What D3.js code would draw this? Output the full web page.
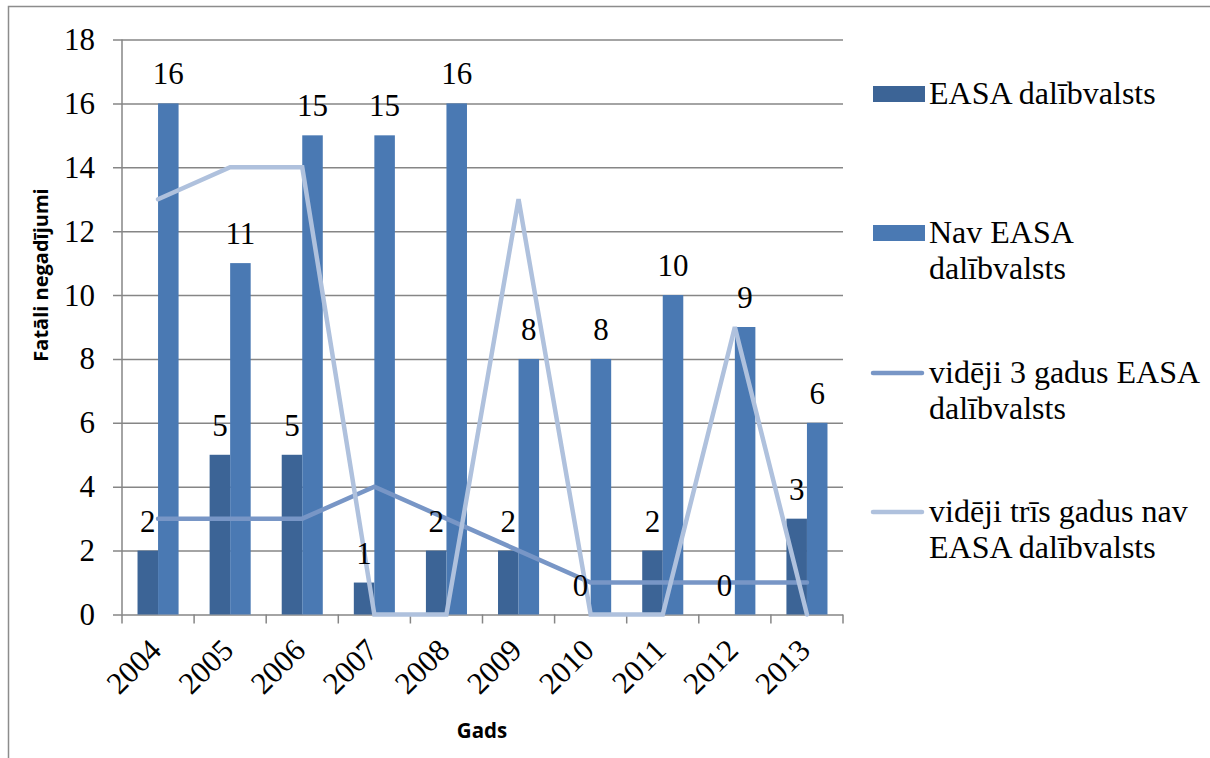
<!DOCTYPE html>
<html>
<head><meta charset='utf-8'>
<script src='https://d3js.org/d3.v7.min.js'></script></head>
<body style='margin:0'>
<script>
			var years = ['2004', '2005', '2006', '2007', '2008', '2009', '2010', '2011', '2012', '2013'];
			var easa = [2, 5, 5, 1, 2, 2, 0, 2, 0, 3];
			var navEasa = [16, 11, 15, 15, 16, 8, 8, 10, 9, 6];
			var avgEasa = [3, 3, 3, 4, 3, 2, 1, 1, 1, 1];
			var avgNavEasa = [13, 14, 14, 0, 0, 13, 0, 0, 9, 0];
			var yTicks = [0, 2, 4, 6, 8, 10, 12, 14, 16, 18];

			var w = 1210;
			var h = 758;

			var serifFam = 'Times New Roman, Times, Liberation Serif, serif';
			var sansFam = 'Open Sans, Liberation Sans, sans-serif';

			var svg = d3.select('body')
						.append('svg')
						.attr('width', w)
						.attr('height', h)
						.attr('font-family', serifFam);

			// outer frame (left + top only visible)
			svg.append('path')
				.attr('d', 'M8.5,' + h + 'V6.5H' + w)
				.attr('fill', 'none')
				.attr('stroke', '#8c8c8c')
				.attr('stroke-width', 1.5);

			var xScale = d3.scaleBand()
						.domain(years)
						.range([122, 843]);

			var inner = d3.scaleBand()
						.domain([0, 1])
						.range([0, xScale.bandwidth()])
						.paddingInner(0)
						.paddingOuter(0.756);

			var yScale = d3.scaleLinear()
						.domain([0, 18])
						.range([614.5, 39.5]);

			// gridlines
			var yAxis = d3.axisLeft(yScale)
						.tickValues(yTicks)
						.tickSize(843 - 113)
						.tickFormat('');

			var gy = svg.append('g')
				.attr('transform', 'translate(843,0)')
				.call(yAxis);
			gy.select('.domain').remove();
			gy.selectAll('.tick line')
				.attr('stroke', '#868686')
				.attr('stroke-width', 1.5);
			gy.selectAll('.tick text').remove();

			// y labels
			svg.selectAll('text.ylab')
				.data(yTicks)
				.enter()
				.append('text')
				.attr('class', 'ylab')
				.attr('x', 95)
				.attr('y', function(d) { return yScale(d); })
				.attr('dy', '0.34em')
				.attr('text-anchor', 'end')
				.attr('font-family', serifFam)
				.attr('font-size', 31)
				.text(function(d) { return d; });

			// y axis line
			svg.append('line')
				.attr('x1', 122).attr('x2', 122)
				.attr('y1', yScale(18)).attr('y2', yScale(0))
				.attr('stroke', '#868686')
				.attr('stroke-width', 1.5);

			// x tick marks at category boundaries
			var bounds = years.map(function(d) { return xScale(d); }).concat([843]);
			svg.selectAll('.xtick')
				.data(bounds)
				.enter()
				.append('line')
				.attr('x1', function(d) { return d; })
				.attr('x2', function(d) { return d; })
				.attr('y1', yScale(0))
				.attr('y2', yScale(0) + 9)
				.attr('stroke', '#868686')
				.attr('stroke-width', 1.5);

			// bars
			var barData = [];
			years.forEach(function(y, i) {
				barData.push({ year: y, s: 0, v: easa[i] });
				barData.push({ year: y, s: 1, v: navEasa[i] });
			});
			var colors = ['#3c6496', '#4a79b3'];

			svg.selectAll('rect.bar')
				.data(barData)
				.enter()
				.append('rect')
				.attr('class', 'bar')
				.attr('x', function(d) { return xScale(d.year) + inner(d.s); })
				.attr('y', function(d) { return yScale(d.v); })
				.attr('width', inner.bandwidth())
				.attr('height', function(d) { return yScale(0) - yScale(d.v); })
				.attr('fill', function(d) { return colors[d.s]; });

			// lines
			var line = d3.line()
						.x(function(d, i) { return xScale(years[i]) + xScale.bandwidth() / 2; })
						.y(function(d) { return yScale(d); });

			svg.append('path')
				.datum(avgEasa)
				.attr('d', line)
				.attr('fill', 'none')
				.attr('stroke', '#7896c6')
				.attr('stroke-width', 4.5)
				.attr('stroke-linecap', 'round');

			svg.append('path')
				.datum(avgNavEasa)
				.attr('d', line)
				.attr('fill', 'none')
				.attr('stroke', '#afc1dd')
				.attr('stroke-width', 4.5)
				.attr('stroke-linecap', 'round');

			// value labels
			svg.selectAll('text.val')
				.data(barData)
				.enter()
				.append('text')
				.attr('class', 'val')
				.attr('x', function(d) { return xScale(d.year) + inner(d.s) + inner.bandwidth() / 2; })
				.attr('y', function(d) { return yScale(d.v) - 19; })
				.attr('text-anchor', 'middle')
				.attr('font-family', serifFam)
				.attr('font-size', 31)
				.text(function(d) { return d.v; });

			// x labels
			svg.selectAll('text.xlab')
				.data(years)
				.enter()
				.append('text')
				.attr('class', 'xlab')
				.attr('transform', function(d) {
					return 'translate(' + (xScale(d) + xScale.bandwidth() / 2 + 5) + ',652) rotate(-45)';
				})
				.attr('text-anchor', 'end')
				.attr('font-family', serifFam)
				.attr('font-size', 31)
				.text(function(d) { return d; });

			// axis titles
			svg.append('text')
				.attr('x', 482)
				.attr('y', 738)
				.attr('text-anchor', 'middle')
				.attr('font-family', sansFam)
				.attr('font-weight', 'bold')
				.attr('font-size', 20.5)
				.text('Gads');

			svg.append('text')
				.attr('transform', 'translate(48,275) rotate(-90)')
				.attr('text-anchor', 'middle')
				.attr('font-family', sansFam)
				.attr('font-weight', 'bold')
				.attr('font-size', 20)
				.text('Fatāli negadījumi');

			// legend
			var legend = [
				{ type: 'rect', color: colors[0], y: 94, lines: ['EASA dalībvalsts'] },
				{ type: 'rect', color: colors[1], y: 233, lines: ['Nav EASA', 'dalībvalsts'] },
				{ type: 'line', color: '#7896c6', y: 373, lines: ['vidēji 3 gadus EASA', 'dalībvalsts'] },
				{ type: 'line', color: '#afc1dd', y: 512, lines: ['vidēji trīs gadus nav', 'EASA dalībvalsts'] }
			];

			legend.forEach(function(d) {
				if (d.type === 'rect') {
					svg.append('rect')
						.attr('x', 873)
						.attr('y', d.y - 8)
						.attr('width', 52)
						.attr('height', 16)
						.attr('fill', d.color);
				} else {
					svg.append('line')
						.attr('x1', 873).attr('x2', 922)
						.attr('y1', d.y).attr('y2', d.y)
						.attr('stroke', d.color)
						.attr('stroke-width', 4.5)
						.attr('stroke-linecap', 'round');
				}
				svg.selectAll(null)
					.data(d.lines)
					.enter()
					.append('text')
					.attr('x', 929)
					.attr('y', function(t, i) { return d.y + 10 + i * 36; })
					.attr('font-family', serifFam)
					.attr('font-size', 32)
					.text(function(t) { return t; });
			});
</script>
</body>
</html>
